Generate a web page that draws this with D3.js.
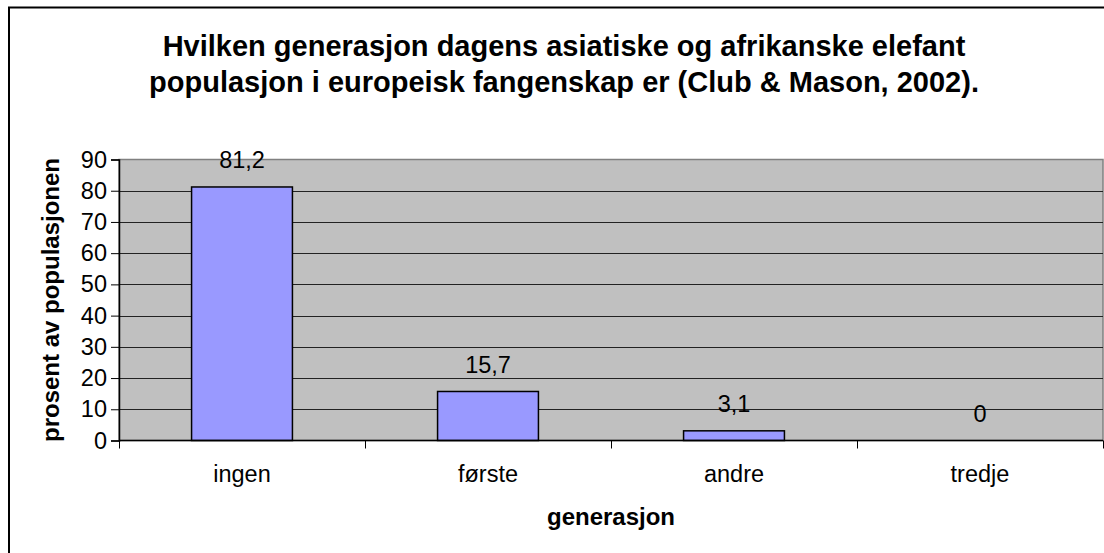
<!DOCTYPE html>
<html>
<head>
<meta charset="utf-8">
<script src="https://cdn.jsdelivr.net/npm/d3@7"></script>
<style>
  body { margin: 0; background: #fff; }
  text { font-family: "Liberation Sans", Arial, sans-serif; fill: #000; }
</style>
</head>
<body>
<script>
const categories = ["ingen", "første", "andre", "tredje"];
const values = [81.2, 15.7, 3.1, 0];
const valueLabels = ["81,2", "15,7", "3,1", "0"];
const yTicks = [0, 10, 20, 30, 40, 50, 60, 70, 80, 90];
const titleLines = [
    "Hvilken generasjon dagens asiatiske og afrikanske elefant",
    "populasjon i europeisk fangenskap er (Club & Mason, 2002)."
];

const dimensions = {
    width: 1104,
    height: 553,
    margin: { top: 159.5, left: 119, right: 1103, bottom: 440.5 }
};

const svg = d3.select("body").append("svg")
    .attr("width", dimensions.width)
    .attr("height", dimensions.height);

// outer chart frame (runs off the right and bottom edge)
svg.append("rect")
    .attr("x", 9).attr("y", 7.5)
    .attr("width", 1300).attr("height", 1000)
    .attr("fill", "none").attr("stroke", "#000").attr("stroke-width", 2);

const title = svg.append("text")
    .attr("text-anchor", "middle")
    .attr("font-weight", "bold")
    .attr("font-size", 29);
titleLines.forEach((line, i) => {
    title.append("tspan").attr("x", 564).attr("y", 56 + i * 36).text(line);
});

const xScale = d3.scaleBand()
    .domain(categories)
    .range([dimensions.margin.left, dimensions.margin.right])
    .paddingInner(0.59)
    .paddingOuter(0.295);

const yScale = d3.scaleLinear()
    .domain([0, 90])
    .range([dimensions.margin.bottom, dimensions.margin.top]);

// plot area
svg.append("rect")
    .attr("x", dimensions.margin.left).attr("y", dimensions.margin.top)
    .attr("width", dimensions.margin.right - dimensions.margin.left)
    .attr("height", dimensions.margin.bottom - dimensions.margin.top)
    .attr("fill", "#c0c0c0").attr("stroke", "#808080").attr("stroke-width", 1.5);

// gridlines
svg.append("g")
    .selectAll("line")
    .data(yTicks.filter(t => t > 0 && t < 90))
    .join("line")
    .attr("x1", dimensions.margin.left).attr("x2", dimensions.margin.right)
    .attr("y1", d => Math.round(yScale(d)) + 0.5).attr("y2", d => Math.round(yScale(d)) + 0.5)
    .attr("stroke", "#222").attr("stroke-width", 1);

// bars
svg.append("g")
    .selectAll("rect")
    .data(values)
    .join("rect")
    .attr("x", (d, i) => xScale(categories[i]))
    .attr("y", d => yScale(d))
    .attr("width", xScale.bandwidth())
    .attr("height", d => yScale(0) - yScale(d))
    .attr("fill", "#9999ff")
    .attr("stroke", "#000")
    .attr("stroke-width", 1.5);

// value labels
svg.append("g")
    .selectAll("text")
    .data(values)
    .join("text")
    .attr("x", (d, i) => xScale(categories[i]) + xScale.bandwidth() / 2)
    .attr("y", d => yScale(d) - 18.5)
    .attr("text-anchor", "middle")
    .attr("font-size", 23.5)
    .text((d, i) => valueLabels[i]);

// y axis
const yAxisGenerator = d3.axisLeft(yScale)
    .tickValues(yTicks)
    .tickSize(8)
    .tickPadding(4);

const yAxis = svg.append("g")
    .attr("transform", `translate(${dimensions.margin.left}, 0)`)
    .call(yAxisGenerator);
yAxis.select(".domain").attr("stroke", "#000").attr("stroke-width", 1.5);
yAxis.selectAll(".tick line").attr("stroke", "#000");
yAxis.selectAll(".tick text")
    .attr("font-size", 23.5)
    .attr("font-family", "Liberation Sans, Arial, sans-serif")
    .attr("fill", "#000");

// x axis, ticks sit at the category boundaries
const bounds = categories.map((c, i) => dimensions.margin.left + i * (dimensions.margin.right - dimensions.margin.left) / categories.length);
bounds.push(dimensions.margin.right);

const xAxis = svg.append("g");
xAxis.append("line")
    .attr("x1", dimensions.margin.left).attr("x2", dimensions.margin.right)
    .attr("y1", dimensions.margin.bottom).attr("y2", dimensions.margin.bottom)
    .attr("stroke", "#000").attr("stroke-width", 1.5);
xAxis.selectAll(".xtick")
    .data(bounds)
    .join("line")
    .attr("class", "xtick")
    .attr("x1", d => Math.round(d) + 0.5).attr("x2", d => Math.round(d) + 0.5)
    .attr("y1", dimensions.margin.bottom).attr("y2", dimensions.margin.bottom + 8)
    .attr("stroke", "#000");
xAxis.selectAll(".xlabel")
    .data(categories)
    .join("text")
    .attr("class", "xlabel")
    .attr("x", d => xScale(d) + xScale.bandwidth() / 2)
    .attr("y", 482)
    .attr("text-anchor", "middle")
    .attr("font-size", 23.5)
    .text(d => d);

// axis titles
svg.append("text")
    .attr("x", (dimensions.margin.left + dimensions.margin.right) / 2)
    .attr("y", 525)
    .attr("text-anchor", "middle")
    .attr("font-weight", "bold")
    .attr("font-size", 24)
    .text("generasjon");

svg.append("text")
    .attr("transform", `translate(59, ${(dimensions.margin.top + dimensions.margin.bottom) / 2}) rotate(-90)`)
    .attr("text-anchor", "middle")
    .attr("font-weight", "bold")
    .attr("font-size", 24)
    .text("prosent av populasjonen");
</script>
</body>
</html>
